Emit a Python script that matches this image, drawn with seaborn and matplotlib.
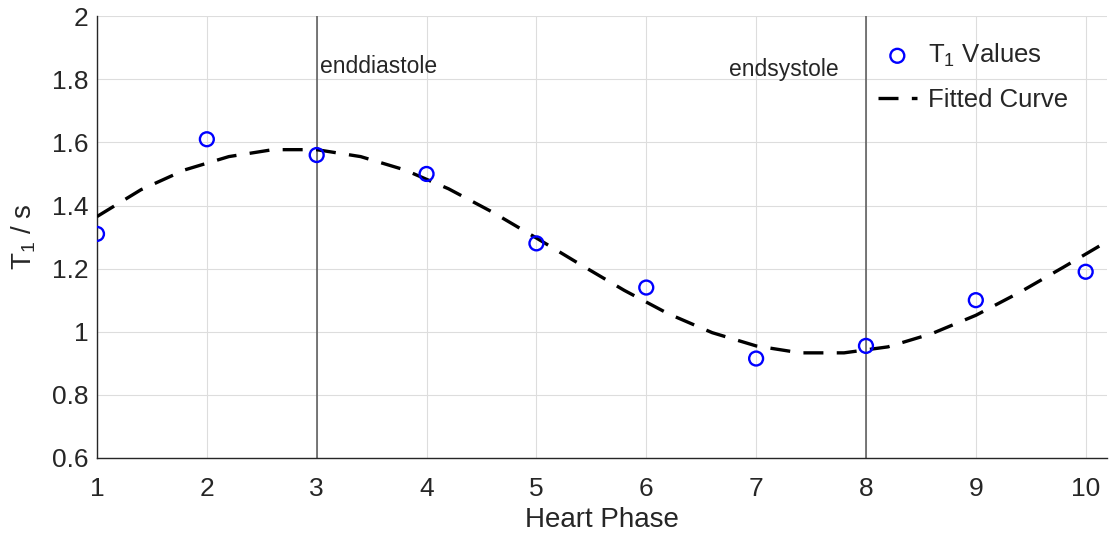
import numpy as np
import matplotlib.pyplot as plt
import seaborn as sns

# measured T1 per heart phase
phase = [1, 2, 3, 4, 5, 6, 7, 8, 9, 10]
t1_values = [1.31, 1.61, 1.56, 1.50, 1.28, 1.14, 0.915, 0.955, 1.10, 1.19]

# fitted curve
fit_x = [1.0, 1.4, 1.8, 2.2, 2.6, 3.0, 3.4, 3.8, 4.2, 4.6, 5.0, 5.4,
         5.8, 6.2, 6.6, 7.0, 7.4, 7.8, 8.2, 8.6, 9.0, 9.4, 9.8, 10.2]
fit_y = [1.365, 1.450, 1.513, 1.555, 1.577, 1.577, 1.555, 1.513, 1.453, 1.379,
         1.297, 1.213, 1.131, 1.057, 0.997, 0.955, 0.933, 0.933, 0.952, 0.994,
         1.052, 1.125, 1.205, 1.287]

events = {'enddiastole': 3, 'endsystole': 8}


def main():
    sns.set_style('white')
    plt.rcParams['font.family'] = ['Liberation Sans', 'DejaVu Sans']
    plt.rcParams['mathtext.default'] = 'regular'

    fig = plt.figure(figsize=(11.2, 5.4), dpi=100)
    ax = fig.add_axes([0.0866, 0.152, 0.9014, 0.818])

    for name, x in events.items():
        ax.axvline(x, color='#555555', lw=1.1, zorder=2)
    ax.text(3.03, 1.84, 'enddiastole', fontsize=16.5, ha='left', va='center')
    ax.text(7.75, 1.83, 'endsystole', fontsize=16.5, ha='right', va='center')

    sns.lineplot(x=fit_x, y=fit_y, ax=ax, color='black', lw=2.4,
                 dashes=False, label='Fitted Curve', zorder=3)
    ax.lines[-1].set_dashes([6, 4])
    sns.scatterplot(x=phase, y=t1_values, ax=ax, marker='o', s=100,
                    facecolors='none', edgecolor='blue', linewidth=1.7,
                    label='T$_1$ Values', zorder=4)

    ax.set_xlim(1, 10.19)
    ax.set_ylim(0.6, 2)
    ax.set_xticks(range(1, 11))
    ax.set_yticks([0.6, 0.8, 1, 1.2, 1.4, 1.6, 1.8, 2])
    ax.set_yticklabels(['0.6', '0.8', '1', '1.2', '1.4', '1.6', '1.8', '2'])
    ax.grid(True, color='#dddddd', lw=0.8)
    ax.tick_params(direction='in', length=5, labelsize=19, colors='#262626')
    ax.tick_params(axis='x', pad=14)
    ax.tick_params(axis='y', pad=6)
    for s in ['top', 'right']:
        ax.spines[s].set_visible(False)
    for s in ['left', 'bottom']:
        ax.spines[s].set_color('#262626')
        ax.spines[s].set_linewidth(1.0)
    ax.set_xlabel('Heart Phase', fontsize=20, color='#262626', labelpad=4)
    ax.set_ylabel('T$_1$ / s', fontsize=20, color='#262626', labelpad=10)

    handles, labels = ax.get_legend_handles_labels()
    ax.legend(handles[::-1], labels[::-1], loc='upper right',
              bbox_to_anchor=(0.985, 0.995), frameon=False,
              fontsize=18.5, handlelength=1.5, handletextpad=0.45,
              labelspacing=0.75)

    plt.savefig('out.png', dpi=100)


if __name__ == "__main__":
    main()
